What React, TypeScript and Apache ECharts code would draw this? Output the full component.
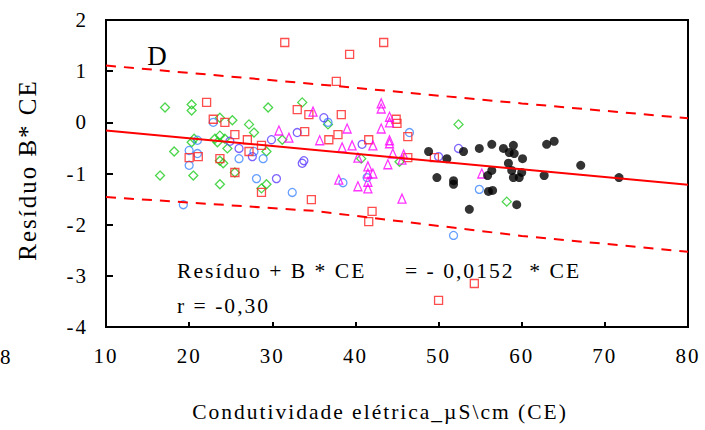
import React, { useEffect, useRef } from "react";
import * as echarts from "echarts";

const FONT = "'Liberation Serif', 'Times New Roman', serif";

// Axis ranges
const xMin = 10, xMax = 80, xStep = 10;
const yMin = -4, yMax = 2, yStep = 1;

// Regression line and prediction band
const regX = [10, 80];
const regY = [-0.16, -1.22];
const bandX = [10, 35, 60, 80];
const bandUpper = [1.11, 0.75, 0.37, 0.08];
const bandLower = [-1.46, -1.73, -2.22, -2.53];

// Red open squares
const redX = [31.5, 39.3, 43.4, 37.7, 22.1, 22.9, 24.3, 25.5, 27.0, 28.7, 27.2, 33.0, 34.4, 33.9, 36.8, 37.9, 38.3, 20.0, 21.1, 23.7, 25.5, 28.7, 34.7, 44.9, 45.0, 41.6, 46.3, 46.3, 42.0, 41.6, 54.3, 50.0, 49.5];
const redY = [1.56, 1.33, 1.56, 0.80, 0.39, 0.06, 0.00, -0.24, -0.34, -0.45, -0.57, 0.25, 0.15, -0.18, -0.34, -0.24, 0.15, -0.69, -0.67, -0.71, -0.98, -1.37, -1.51, 0.06, -0.02, -0.34, -0.28, -0.69, -1.74, -1.94, -3.15, -3.48, -0.69];

// Green open diamonds
const greenX = [17.1, 20.3, 20.3, 29.5, 33.6, 23.7, 25.2, 27.2, 27.8, 20.6, 20.3, 23.1, 23.7, 24.3, 23.4, 24.6, 31.2, 36.7, 18.2, 29.3, 23.7, 24.1, 25.5, 16.5, 20.5, 23.7, 28.7, 29.3, 52.4, 58.2, 40.7, 45.3];
const greenY = [0.29, 0.35, 0.23, 0.29, 0.39, 0.09, 0.04, -0.04, -0.20, -0.32, -0.39, -0.32, -0.26, -0.32, -0.39, -0.51, -0.34, -0.04, -0.57, -0.57, -0.75, -0.80, -0.98, -1.04, -1.04, -1.21, -1.29, -1.21, -0.04, -1.55, -0.71, -0.77];

// Light blue open circles
const blueX = [21.0, 20.0, 21.0, 20.0, 22.9, 26.0, 28.9, 27.8, 28.1, 32.4, 38.5, 46.5, 41.4, 54.9, 19.3, 51.8, 36.7];
const blueY = [-0.35, -0.55, -0.61, -0.84, 0.00, -0.71, -0.71, -0.57, -1.10, -1.37, -1.18, -0.20, -1.08, -1.31, -1.61, -2.21, 0.00];

// Violet open circles
const violetX = [26.0, 27.6, 29.9, 33.0, 33.6, 33.8, 36.2, 24.9, 30.5, 40.8, 50.0, 52.4];
const violetY = [-0.51, -0.67, -0.34, -0.20, -0.80, -0.75, 0.09, -0.37, -1.10, -0.43, -0.67, -0.51];

// Magenta open triangles
const magX = [30.8, 32.0, 34.9, 35.7, 38.4, 39.0, 38.0, 43.1, 43.1, 44.1, 44.1, 43.1, 44.1, 44.1, 39.6, 42.1, 40.3, 44.5, 45.8, 45.6, 43.9, 41.5, 41.5, 42.1, 41.5, 40.3, 41.5, 45.6, 55.2];
const magY = [-0.16, -0.30, 0.21, -0.35, -0.49, -0.12, -1.12, 0.37, 0.27, 0.11, 0.00, -0.12, -0.35, -0.41, -0.45, -0.45, -0.69, -0.61, -0.63, -0.73, -0.82, -0.86, -1.00, -1.00, -1.16, -1.25, -1.29, -1.49, -1.00];

// Black filled circles
const blackX = [48.8, 51.0, 53.0, 54.9, 56.4, 57.8, 59.0, 58.5, 59.1, 60.1, 58.4, 58.8, 56.4, 55.9, 59.0, 59.7, 60.0, 62.7, 63.0, 63.9, 67.1, 71.7, 49.8, 51.8, 51.8, 56.0, 56.5, 53.7, 59.4];
const blackY = [-0.57, -0.71, -0.57, -0.51, -0.43, -0.51, -0.45, -0.59, -0.61, -0.71, -0.80, -0.94, -0.94, -1.04, -1.08, -1.08, -0.98, -1.04, -0.43, -0.37, -0.84, -1.08, -1.08, -1.14, -1.21, -1.35, -1.33, -1.70, -1.61];

// Texts
const panelLabel = "D";
const yTitle = "Resíduo Ƀ* CE";
const xTitle = "Condutividade elétrica_µS\\cm (CE)";
const eqLeft = "Resíduo + B * CE";
const eqRight = "= - 0,0152  * CE";
const rText = "r = -0,30";
const strayLabel = "8";

const zip = (xs: number[], ys: number[]) => xs.map((x, i) => [x, ys[i]]);

function openScatter(name: string, xs: number[], ys: number[], symbol: string, size: any, color: string, z: number) {
  return {
    name,
    type: "scatter",
    data: zip(xs, ys),
    symbol,
    symbolSize: size,
    itemStyle: { color: "rgba(0,0,0,0)", borderColor: color, borderWidth: 1.3 },
    silent: true,
    z,
  };
}

export default function App() {
  const ref = useRef<HTMLDivElement>(null);
  useEffect(() => {
    if (!ref.current) return;
    const chart = echarts.init(ref.current, undefined, { renderer: "svg" });
    const txt = (text: string, x: number, y: number, size: number, align = "left", extra: any = {}, styleExtra: any = {}) => ({
      type: "text",
      x,
      y,
      silent: true,
      ...extra,
      style: { text, fill: "#000", fontSize: size, fontFamily: FONT, align, verticalAlign: "middle", ...styleExtra },
    });
    chart.setOption({
      animation: false,
      textStyle: { fontFamily: FONT },
      grid: { left: 106, right: 17, top: 20, bottom: 103, show: true, borderColor: "#000", borderWidth: 2, backgroundColor: "rgba(0,0,0,0)" },
      xAxis: {
        type: "value",
        min: xMin,
        max: xMax,
        interval: xStep,
        axisLine: { show: true, onZero: false, lineStyle: { color: "#000", width: 2 } },
        axisTick: { show: true, inside: true, length: 5, lineStyle: { color: "#000", width: 2 } },
        axisLabel: { color: "#000", fontSize: 21, fontFamily: FONT, margin: 29, verticalAlign: "middle", showMinLabel: true, showMaxLabel: true },
        splitLine: { show: false },
      },
      yAxis: {
        type: "value",
        min: yMin,
        max: yMax,
        interval: yStep,
        axisLine: { show: true, onZero: false, lineStyle: { color: "#000", width: 2 } },
        axisTick: { show: true, inside: true, length: 7, lineStyle: { color: "#000", width: 2 } },
        axisLabel: { color: "#000", fontSize: 21, fontFamily: FONT, margin: 18, showMinLabel: true, showMaxLabel: true },
        splitLine: { show: false },
      },
      series: [
        openScatter("green", greenX, greenY, "diamond", 9, "#1fcc1f", 2),
        openScatter("blue", blueX, blueY, "circle", 8, "#3d86ff", 2),
        openScatter("violet", violetX, violetY, "circle", 8, "#5a3cff", 2),
        openScatter("red", redX, redY, "rect", 8, "#ff2020", 3),
        openScatter("magenta", magX, magY, "triangle", [8, 9], "#ff00ff", 3),
        {
          name: "black",
          type: "scatter",
          data: zip(blackX, blackY),
          symbol: "circle",
          symbolSize: 9,
          itemStyle: { color: "#000" },
          silent: true,
          z: 3,
        },
        {
          type: "line",
          data: zip(regX, regY),
          symbol: "none",
          lineStyle: { color: "#ff0000", width: 2 },
          silent: true,
          z: 4,
        },
        {
          type: "line",
          data: zip(bandX, bandUpper),
          symbol: "none",
          lineStyle: { color: "#ff0000", width: 2, type: [10, 8] },
          silent: true,
          z: 4,
        },
        {
          type: "line",
          data: zip(bandX, bandLower),
          symbol: "none",
          lineStyle: { color: "#ff0000", width: 2, type: [10, 8] },
          silent: true,
          z: 4,
        },
      ],
      graphic: [
        txt(panelLabel, 158, 56, 27, "center"),
        txt(yTitle, 27, 170, 25, "center", { rotation: Math.PI / 2 }),
        txt(xTitle, 380, 412, 21.5, "center"),
        txt(eqLeft, 177, 271, 21.6, "left"),
        txt(eqRight, 405, 271, 21.6, "left"),
        txt(rText, 177, 306, 21.6, "left"),
        txt(strayLabel, 0, 357, 21, "left"),
      ],
    });
    return () => chart.dispose();
  }, []);
  return (
    <div
      ref={ref}
      style={{ position: "absolute", left: 0, top: 0, width: 705, height: 430, letterSpacing: "2px", background: "#fff" }}
    />
  );
}
